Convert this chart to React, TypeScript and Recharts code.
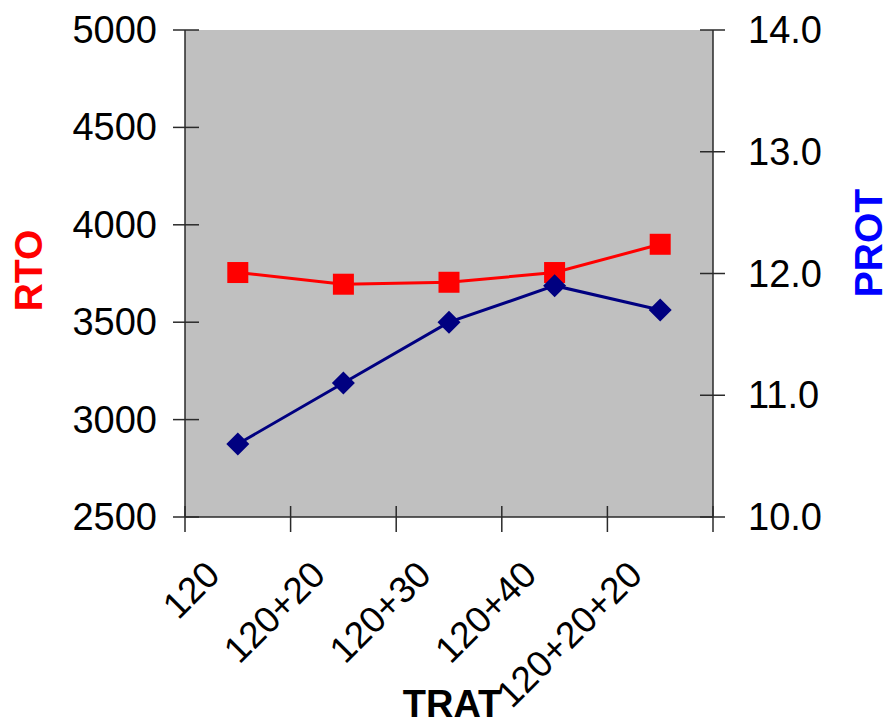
import { LineChart, Line, XAxis, YAxis, CartesianGrid } from "recharts";

const categories = ["120", "120+20", "120+30", "120+40", "120+20+20"];
const rtoValues = [3755, 3695, 3705, 3755, 3900];
const protValues = [10.6, 11.1, 11.6, 11.9, 11.7];
const rtoTicks = [2500, 3000, 3500, 4000, 4500, 5000];
const protTicks = [10, 11, 12, 13, 14];

const W = 886;
const H = 719;
const PLOT_LEFT = 185;
const PLOT_RIGHT = 713;
const PLOT_TOP = 30;
const PLOT_BOTTOM = 517;
const BAND = (PLOT_RIGHT - PLOT_LEFT) / categories.length;
const FONT = "'Liberation Sans', Arial, sans-serif";
const AXIS = "#2a2a2a";

const data = categories.map((trat, i) => ({
  trat,
  rto: rtoValues[i],
  prot: protValues[i],
}));

// y ticks cross the axis line, labels sit outside
function LeftTick({ x, y, payload }: any) {
  return (
    <g>
      <line x1={x - 12} x2={x + 14} y1={y} y2={y} stroke={AXIS} strokeWidth={1.5} />
      <text x={x - 28} y={y} dy={13} textAnchor="end" fontSize={38} fontFamily={FONT} fill="#000">
        {payload.value}
      </text>
    </g>
  );
}

function RightTick({ x, y, payload }: any) {
  return (
    <g>
      <line x1={x - 13} x2={x + 12} y1={y} y2={y} stroke={AXIS} strokeWidth={1.5} />
      <text x={x + 35} y={y} dy={13} textAnchor="start" fontSize={38} fontFamily={FONT} fill="#000">
        {Number(payload.value).toFixed(1)}
      </text>
    </g>
  );
}

// category ticks go on the band edges, labels rotated under the band centre
function BottomTick({ x, y, payload, index }: any) {
  const left = x - BAND / 2;
  const right = x + BAND / 2;
  const lx = x - 16;
  const ly = y + 60;
  return (
    <g>
      <line x1={left} x2={left} y1={y - 11} y2={y + 15} stroke={AXIS} strokeWidth={1.5} />
      {index === categories.length - 1 && (
        <line x1={right} x2={right} y1={y - 11} y2={y + 15} stroke={AXIS} strokeWidth={1.5} />
      )}
      <text
        x={lx}
        y={ly}
        transform={`rotate(-45, ${lx}, ${ly})`}
        textAnchor="end"
        fontSize={37}
        fontFamily={FONT}
        fill="#000"
      >
        {payload.value}
      </text>
    </g>
  );
}

function Square({ cx, cy, index }: any) {
  return <rect key={`sq-${index}`} x={cx - 10.5} y={cy - 10.5} width={21} height={21} fill="#FF0000" />;
}

function Diamond({ cx, cy, index }: any) {
  const r = 11.5;
  return (
    <polygon
      key={`dm-${index}`}
      points={`${cx},${cy - r} ${cx + r},${cy} ${cx},${cy + r} ${cx - r},${cy}`}
      fill="#000080"
    />
  );
}

export default function App() {
  const midY = (PLOT_TOP + PLOT_BOTTOM) / 2;
  return (
    <div style={{ position: "absolute", left: 0, top: 0 }}>
      <LineChart
        width={W}
        height={H}
        data={data}
        margin={{ top: PLOT_TOP, right: 0, bottom: 0, left: 0 }}
      >
        <CartesianGrid horizontal={false} vertical={false} fill="#C0C0C0" fillOpacity={1} stroke="none" />
        <XAxis
          dataKey="trat"
          scale="band"
          height={H - PLOT_BOTTOM}
          interval={0}
          tickSize={0}
          tickMargin={0}
          tickLine={false}
          axisLine={{ stroke: AXIS, strokeWidth: 1.5 }}
          tick={<BottomTick />}
          label={() => (
            <text
              x={(PLOT_LEFT + PLOT_RIGHT) / 2 + 3}
              y={717}
              textAnchor="middle"
              fontSize={38}
              fontWeight="bold"
              fontFamily={FONT}
              fill="#000"
            >
              TRAT
            </text>
          )}
        />
        <YAxis
          yAxisId="rto"
          orientation="left"
          width={PLOT_LEFT}
          domain={[2500, 5000]}
          ticks={rtoTicks}
          interval={0}
          tickSize={0}
          tickMargin={0}
          tickLine={false}
          axisLine={{ stroke: AXIS, strokeWidth: 1.5 }}
          tick={<LeftTick />}
          label={() => (
            <text
              x={28}
              y={midY - 3}
              transform={`rotate(-90, 28, ${midY - 3})`}
              textAnchor="middle"
              dominantBaseline="central"
              fontSize={39}
              fontWeight="bold"
              fontFamily={FONT}
              fill="#FF0000"
            >
              RTO
            </text>
          )}
        />
        <YAxis
          yAxisId="prot"
          orientation="right"
          width={W - PLOT_RIGHT}
          domain={[10, 14]}
          ticks={protTicks}
          interval={0}
          tickSize={0}
          tickMargin={0}
          tickLine={false}
          axisLine={{ stroke: AXIS, strokeWidth: 1.5 }}
          tick={<RightTick />}
          label={() => (
            <text
              x={868}
              y={243}
              transform={`rotate(-90, 868, 243)`}
              textAnchor="middle"
              dominantBaseline="central"
              fontSize={39}
              fontWeight="bold"
              fontFamily={FONT}
              fill="#0000FF"
            >
              PROT
            </text>
          )}
        />
        <Line
          yAxisId="rto"
          type="linear"
          dataKey="rto"
          stroke="#FF0000"
          strokeWidth={3}
          dot={(p: any) => <Square key={`sq-${p.index}`} {...p} />}
          activeDot={false}
          isAnimationActive={false}
        />
        <Line
          yAxisId="prot"
          type="linear"
          dataKey="prot"
          stroke="#000080"
          strokeWidth={3}
          dot={(p: any) => <Diamond key={`dm-${p.index}`} {...p} />}
          activeDot={false}
          isAnimationActive={false}
        />
      </LineChart>
    </div>
  );
}
